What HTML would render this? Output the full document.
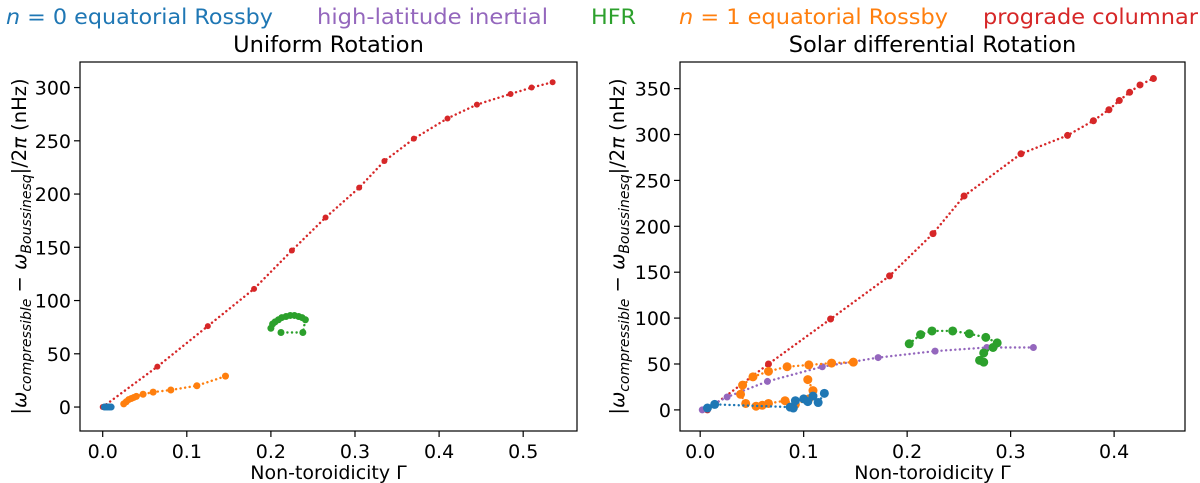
<!DOCTYPE html>
<html><head><meta charset="utf-8">
<style>
html,body{margin:0;padding:0;background:#fff;}
svg{display:block;font-family:"DejaVu Sans","Liberation Sans",sans-serif;}
</style></head>
<body>
<svg id="chart" width="1200" height="483" viewBox="0 0 1200 483">
 <g font-size="21">
  <text x="6" y="24" fill="#1f77b4" textLength="267" lengthAdjust="spacingAndGlyphs"><tspan font-style="italic">n</tspan> = 0 equatorial Rossby</text>
  <text x="317" y="24" fill="#9467bd" textLength="231" lengthAdjust="spacingAndGlyphs">high-latitude inertial</text>
  <text x="591" y="24" fill="#2ca02c" textLength="45" lengthAdjust="spacingAndGlyphs">HFR</text>
  <text x="679" y="24" fill="#ff7f0e" textLength="269" lengthAdjust="spacingAndGlyphs"><tspan font-style="italic">n</tspan> = 1 equatorial Rossby</text>
  <text x="983" y="24" fill="#d62728" textLength="215" lengthAdjust="spacingAndGlyphs">prograde columnar</text>
 </g>
 <g id="left"></g>
 <g id="right"></g>
</svg>
<script>
// ---- Left panel data (Uniform Rotation) ----
const L_redX=[0,0.065,0.125,0.18,0.225,0.265,0.305,0.335,0.37,0.41,0.445,0.485,0.51,0.535];
const L_redY=[0,38,76,111,147,178,206,231,252,271,284,294,300,305];
const L_orX=[0.025,0.028,0.031,0.034,0.037,0.040,0.048,0.060,0.081,0.112,0.146];
const L_orY=[3,5,7,8,9,10,12,14,16,20,29];
const L_blX=[0.002,0.004,0.006,0.008,0.010];
const L_blY=[0,0,0,0,0];
const L_grX=[0.20,0.202,0.205,0.209,0.213,0.218,0.223,0.228,0.233,0.237,0.241,0.238,0.212];
const L_grY=[74,78,80,82,84,85,86,86,85,84,82,70,70];
const L_xTicks=[0,0.1,0.2,0.3,0.4,0.5];
const L_xTickLabels=["0.0","0.1","0.2","0.3","0.4","0.5"];
const L_yTicks=[0,50,100,150,200,250,300];
// ---- Right panel data (Solar differential Rotation) ----
const R_redX=[0.007,0.066,0.126,0.183,0.225,0.255,0.31,0.355,0.38,0.395,0.405,0.415,0.425,0.438];
const R_redY=[0,50,99,146,192,233,279,299,315,327,337,346,354,361];
const R_puX=[0.002,0.026,0.065,0.118,0.172,0.227,0.277,0.322];
const R_puY=[0,14,31,47,57,64,68,68];
const R_orX=[0.148,0.127,0.105,0.084,0.066,0.051,0.041,0.039,0.044,0.054,0.06,0.066,0.082,0.092,0.105,0.109,0.104];
const R_orY=[52,51,49,47,42,36,27,17,7,4,5,7,10,6,12,21,33];
const R_blX=[0.007,0.014,0.087,0.09,0.092,0.1,0.104,0.109,0.114,0.12];
const R_blY=[2,6,3,2,10,12,9,15,8,18];
const R_grX=[0.202,0.213,0.224,0.244,0.26,0.276,0.287,0.283,0.274,0.27,0.274];
const R_grY=[72,82,86,86,83,79,73,68,62,54,52];
const R_xTicks=[0,0.1,0.2,0.3,0.4];
const R_xTickLabels=["0.0","0.1","0.2","0.3","0.4"];
const R_yTicks=[0,50,100,150,200,250,300,350];

const NS="http://www.w3.org/2000/svg";
const C={blue:"#1f77b4",orange:"#ff7f0e",green:"#2ca02c",red:"#d62728",purple:"#9467bd"};
function mk(tag,attrs,parent){const e=document.createElementNS(NS,tag);for(const k in attrs)e.setAttribute(k,attrs[k]);parent.appendChild(e);return e;}

function panel(g,box,xMin,xMax,yMin,yMax,xT,xTL,yT,title,series,prefix){
  const sx=v=>box.x0+(v-xMin)/(xMax-xMin)*(box.x1-box.x0);
  const sy=v=>box.y1-(v-yMin)/(yMax-yMin)*(box.y1-box.y0);
  series.forEach(s=>{
    const sg=mk("g",{},g);
    
    
    const pts=s.x.map((v,i)=>sx(v).toFixed(1)+","+sy(s.y[i]).toFixed(1)).join(" ");
    const pl=mk("polyline",{points:pts,fill:"none",stroke:s.c,"stroke-width":2.4,"stroke-dasharray":"0.1,4.5","stroke-linecap":"round"},sg);
    
    
    s.x.forEach((v,i)=>{
      const c=mk("circle",{cx:sx(v),cy:sy(s.y[i]),r:s.r,fill:s.c},sg);
      
      
    });
  });
  const fr=mk("rect",{x:box.x0,y:box.y0,width:box.x1-box.x0,height:box.y1-box.y0,fill:"none",stroke:"#000","stroke-width":1.2},g);
  
  
  xT.forEach((v,i)=>{
    const x=sx(v);
    mk("line",{x1:x,x2:x,y1:box.y1,y2:box.y1+6,stroke:"#000","stroke-width":1.2},g);
    const t=mk("text",{x:x,y:box.y1+27,"text-anchor":"middle","font-size":19},g);
    t.textContent=xTL[i];
    
    
  });
  yT.forEach(v=>{
    const y=sy(v);
    mk("line",{x1:box.x0-6,x2:box.x0,y1:y,y2:y,stroke:"#000","stroke-width":1.2},g);
    const t=mk("text",{x:box.x0-9,y:y+7,"text-anchor":"end","font-size":19},g);
    t.textContent=String(v);
    
    
  });
  const tt=mk("text",{x:(box.x0+box.x1)/2,y:box.y0-10,"text-anchor":"middle","font-size":22.5},g);
  tt.textContent=title;
  
  
  const xl=mk("text",{x:(box.x0+box.x1)/2,y:box.y1+48,"text-anchor":"middle","font-size":19},g);
  xl.textContent="Non-toroidicity Γ";
  
  
  const yc=(box.y0+box.y1)/2, xx=box.x0-(prefix==="left"?54:56);
  const yl=mk("text",{x:xx,y:yc,"text-anchor":"middle","font-size":19.5,transform:`rotate(-90 ${xx} ${yc})`},g);
  yl.innerHTML='|<tspan font-style="italic">ω</tspan><tspan font-size="14" dy="5" font-style="italic">compressible</tspan><tspan dy="-5"> − </tspan><tspan font-style="italic">ω</tspan><tspan font-size="14" dy="5" font-style="italic">Boussinesq</tspan><tspan dy="-5">|/2</tspan><tspan font-style="italic">π</tspan> (nHz)';
  
  
}

panel(document.getElementById("left"),{x0:80,x1:577,y0:62,y1:431},
  -0.027,0.564,-22.5,324,L_xTicks,L_xTickLabels,L_yTicks,"Uniform Rotation",
  [{name:"prograde",x:L_redX,y:L_redY,c:C.red,r:3},
   {name:"n1-rossby",x:L_orX,y:L_orY,c:C.orange,r:3.5},
   {name:"hfr",x:L_grX,y:L_grY,c:C.green,r:3.5},
   {name:"n0-rossby",x:L_blX,y:L_blY,c:C.blue,r:3.5}],"left");

panel(document.getElementById("right"),{x0:680,x1:1185,y0:62,y1:431},
  -0.0195,0.4685,-23,379,R_xTicks,R_xTickLabels,R_yTicks,"Solar differential Rotation",
  [{name:"prograde",x:R_redX,y:R_redY,c:C.red,r:3.5},
   {name:"high-latitude",x:R_puX,y:R_puY,c:C.purple,r:3.5},
   {name:"hfr",x:R_grX,y:R_grY,c:C.green,r:4.5},
   {name:"n1-rossby",x:R_orX,y:R_orY,c:C.orange,r:4.5},
   {name:"n0-rossby",x:R_blX,y:R_blY,c:C.blue,r:4.5}],"right");
</script>
</body></html>
